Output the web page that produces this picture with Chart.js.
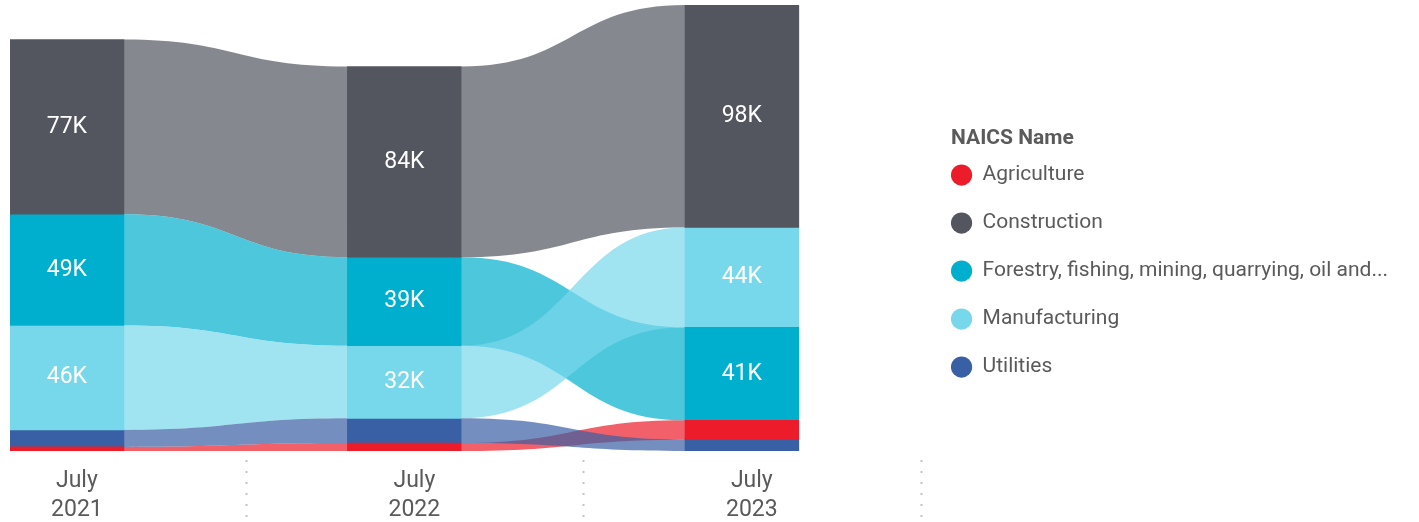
<!DOCTYPE html>
<html>
<head>
<meta charset="utf-8">
<script src="https://cdn.jsdelivr.net/npm/chart.js@4/dist/chart.umd.min.js"></script>
<style>
  html, body { margin: 0; padding: 0; background: #fff; }
  #wrap { width: 1419px; height: 522px; position: relative; }
</style>
</head>
<body>
<div id="wrap"><canvas id="ribbonChart"></canvas></div>
<script>
// Employment by industry (thousands)
const periods = ['July 2021', 'July 2022', 'July 2023'];
const industries = ['Agriculture', 'Construction', 'Forestry, fishing, mining, quarrying, oil and...', 'Manufacturing', 'Utilities'];
const agriculture   = [1.8, 3.5, 8.5];
const construction  = [77, 84, 98];
const forestry      = [49, 39, 41];
const manufacturing = [46, 32, 44];
const utilities     = [7.5, 10.9, 5.0];
const colors = ['#ED1C2A', '#53565F', '#00AFCD', '#77D7EB', '#395FA4'];
const legendTitle = 'NAICS Name';

const series = [agriculture, construction, forestry, manufacturing, utilities];
const TEXT = '#5a5a5a';
const FONT = 'Roboto';
const SEP_OFFSET = 0.53; // dotted separators sit just right of each column

// Ribbon chart: each column is ranked, largest on top -> floating bars
function floatingRanges() {
    const ranges = series.map(() => []);
    periods.forEach((p, j) => {
        const order = series.map((s, i) => i).sort((a, b) => series[a][j] - series[b][j]);
        let base = 0;
        order.forEach(i => {
            ranges[i][j] = { x: j, y: [base, base + series[i][j]] };
            base += series[i][j];
        });
    });
    return ranges;
}

function alpha(hex, a) {
    const n = parseInt(hex.slice(1), 16);
    return `rgba(${n >> 16}, ${(n >> 8) & 255}, ${n & 255}, ${a})`;
}

const totals = periods.map((p, j) => series.reduce((sum, s) => sum + s[j], 0));
const ranges = floatingRanges();

// Draw the ribbons between adjacent columns, under the bars
const ribbonPlugin = {
    id: 'ribbons',
    beforeDatasetsDraw(chart) {
        const ctx = chart.ctx;
        ctx.save();
        chart.data.datasets.forEach((ds, d) => {
            const bars = chart.getDatasetMeta(d).data;
            for (let j = 0; j < bars.length - 1; j++) {
                const a = bars[j], b = bars[j + 1];
                const x1 = a.x + a.width / 2;
                const x2 = b.x - b.width / 2;
                const xm = (x1 + x2) / 2;
                ctx.beginPath();
                ctx.moveTo(x1, a.y);
                ctx.bezierCurveTo(xm, a.y, xm, b.y, x2, b.y);
                ctx.lineTo(x2, b.base);
                ctx.bezierCurveTo(xm, b.base, xm, a.base, x1, a.base);
                ctx.closePath();
                ctx.fillStyle = alpha(colors[d], 0.7);
                ctx.fill();
            }
        });
        ctx.restore();
    },
    afterDatasetsDraw(chart) {
        // value labels inside the larger segments
        const ctx = chart.ctx;
        ctx.save();
        ctx.fillStyle = '#fff';
        ctx.font = `23px ${FONT}`;
        ctx.textAlign = 'center';
        ctx.textBaseline = 'middle';
        chart.data.datasets.forEach((ds, d) => {
            chart.getDatasetMeta(d).data.forEach((bar, j) => {
                const v = series[d][j];
                if (v < 20) return;
                ctx.fillText(Math.round(v) + 'K', bar.x, (bar.y + bar.base) / 2);
            });
        });
        ctx.restore();
    },
    afterDraw(chart) {
        const ctx = chart.ctx;
        const xs = chart.scales.x;
        ctx.save();
        // dotted category separators in the axis band
        ctx.strokeStyle = '#c4c4c4';
        ctx.lineWidth = 2;
        ctx.setLineDash([2, 9]);
        periods.forEach((p, i) => {
            const x = Math.round(xs.getPixelForValue(i + SEP_OFFSET)) + 0.5;
            ctx.beginPath();
            ctx.moveTo(x, chart.chartArea.bottom + 9);
            ctx.lineTo(x, chart.height);
            ctx.stroke();
        });
        // legend heading, lined up with the markers (space reserved by legend title)
        const first = chart.legend.legendHitBoxes[0];
        if (first) {
            ctx.fillStyle = TEXT;
            ctx.font = `bold 21px ${FONT}`;
            ctx.textAlign = 'left';
            ctx.textBaseline = 'middle';
            ctx.fillText(legendTitle, first.left, first.top + first.height / 2 - 36);
        }
        ctx.restore();
    }
};

new Chart(document.getElementById('ribbonChart'), {
    type: 'bar',
    data: {
        datasets: industries.map((name, i) => ({
            label: name,
            data: ranges[i],
            backgroundColor: colors[i],
            borderWidth: 0,
            grouped: false,
            barThickness: 114
        }))
    },
    options: {
        responsive: true,
        maintainAspectRatio: false,
        animation: false,
        layout: { padding: { top: 5, left: 10, right: 21, bottom: 0 } },
        plugins: {
            tooltip: { enabled: false },
            legend: {
                position: 'right',
                align: 'center',
                title: {
                    display: true,
                    text: '',
                    font: { family: FONT, size: 21, weight: 'bold' },
                    padding: { top: 2, bottom: -12 }
                },
                labels: {
                    usePointStyle: true,
                    pointStyle: 'circle',
                    boxHeight: 15,
                    padding: 27,
                    color: TEXT,
                    font: { family: FONT, size: 21 }
                }
            }
        },
        scales: {
            x: {
                type: 'linear',
                offset: false,
                min: -0.1686,
                max: 2.54,
                grid: { display: false, drawTicks: false },
                border: { display: false },
                afterFit: axis => { axis.height = 71; },
                afterBuildTicks: axis => { axis.ticks = periods.map((p, i) => ({ value: i })); },
                ticks: {
                    autoSkip: false,
                    maxRotation: 0,
                    padding: 16,
                    labelOffset: 10,
                    color: TEXT,
                    font: { family: FONT, size: 23, lineHeight: 1.26 },
                    callback: v => periods[v] ? periods[v].split(' ') : ''
                }
            },
            y: {
                display: false,
                min: 0,
                max: Math.max(...totals)
            }
        }
    },
    plugins: [ribbonPlugin]
});
</script>
</body>
</html>
